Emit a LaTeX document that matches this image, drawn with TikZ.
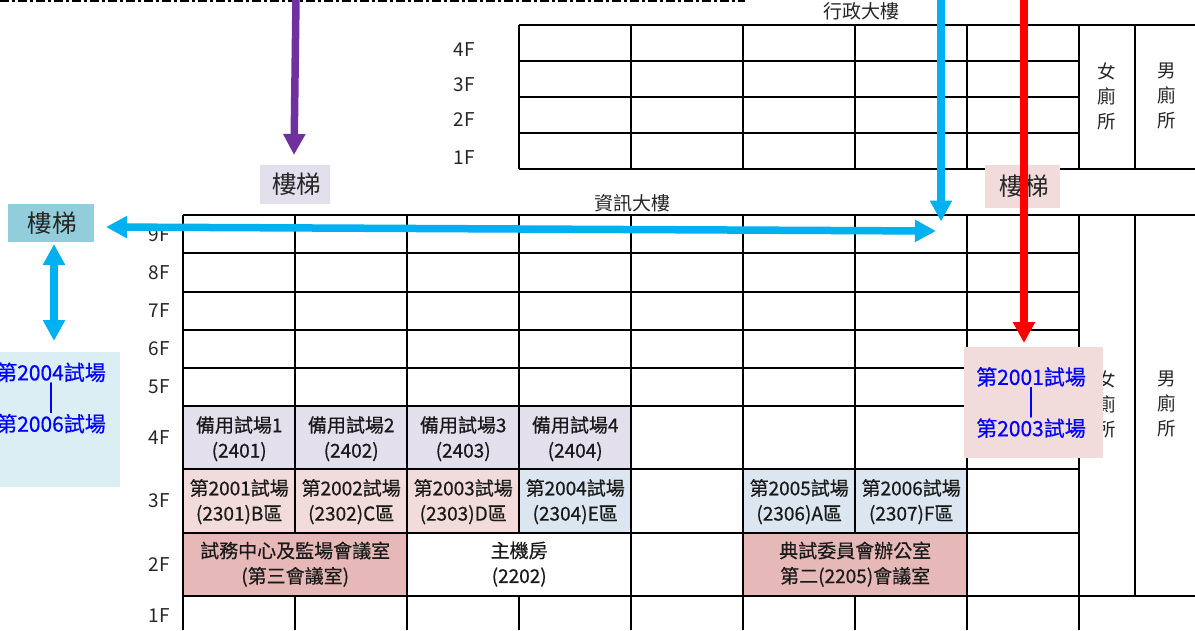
\documentclass[tikz,border=0pt]{standalone}
\usepackage{fontspec}
\setmainfont{Noto Sans CJK TC}
\newfontfamily\heavycjk[FakeBold=0.5]{Noto Sans CJK TC}
\usetikzlibrary{arrows.meta}
\definecolor{lavender}{HTML}{E4DFEC}
\definecolor{rosered}{HTML}{F2DCDB}
\definecolor{paleblue}{HTML}{DCE6F1}
\definecolor{deepred}{HTML}{E6B8B7}
\definecolor{stairblue}{HTML}{92CDDC}
\definecolor{paleteal}{HTML}{DAEEF3}
\definecolor{arrowblue}{HTML}{00B0F0}
\definecolor{arrowpurple}{HTML}{7030A0}
\newcommand{\stairtext}{\raisebox{-1pt}{樓梯}}
\newcommand{\hallbar}{{\fontsize{27}{25}\selectfont|}}

\begin{document}
\begin{tikzpicture}[x=1pt, y=-1pt,
    wall/.style={line width=2pt, black},
    room/.style={inner sep=0pt, align=center, font=\fontsize{19}{25.3}\heavycjk, text=black!90},
    floorlabel/.style={inner sep=0pt, font=\fontsize{19}{20}\selectfont, text=black!85},
    stairbox/.style={inner sep=0pt, font=\fontsize{24.5}{26}\selectfont, text=black!85},
    hallbox/.style={inner sep=0pt, align=center, text=blue, font=\fontsize{21}{25}\heavycjk},
    routearrow/.style={line width=7.5pt, -{Triangle[length=21pt, width=21pt]}},
    bothways/.style={line width=7.5pt, {Triangle[length=21pt, width=21pt]}-{Triangle[length=21pt, width=21pt]}},
  ]
  \useasboundingbox (0,0) rectangle (1195,630);
  \begin{scope}
  \clip (0,0) rectangle (1195,630);

  % rooms with fill
  \foreach \rx/\num/\rno in {183/1/2401, 295/2/2402, 407/3/2403, 519/4/2404}
    \node[room, fill=lavender, minimum width=112pt, minimum height=63pt, anchor=north west] (spare\num) at (\rx,407)
      {備用試場\num\\(\rno)};
  \foreach \rx/\num/\rno/\zone/\col in {183/1/2301/B/rosered, 295/2/2302/C/rosered, 407/3/2303/D/rosered, 519/4/2304/E/paleblue, 743/5/2306/A/paleblue, 855/6/2307/F/paleblue}
    \node[room, fill=\col, minimum width=112pt, minimum height=64pt, anchor=north west] (exam\num) at (\rx,469.5)
      {第200\num 試場\\(\rno)\zone 區};
  \node[room, fill=deepred, minimum width=224pt, minimum height=63pt, anchor=north west] (center) at (183,532.5)
    {試務中心及監場會議室\\(第三會議室)};
  \node[room, minimum width=224pt, minimum height=63pt, anchor=north west] (server) at (407,532.5)
    {主機房\\(2202)};
  \node[room, fill=deepred, minimum width=224pt, minimum height=63pt, anchor=north west] (office) at (743,532.5)
    {典試委員會辦公室\\第二(2205)會議室};

  % admin building
  \foreach \ry in {25,169} \draw[wall] (519,\ry) -- (1195,\ry);
  \foreach \ry in {61,97,133} \draw[wall] (519,\ry) -- (1079,\ry);
  \foreach \rx in {519,631,743,855,967,1079,1135} \draw[wall] (\rx,25) -- (\rx,169);

  % info building
  \foreach \ry in {215,596} \draw[wall] (183,\ry) -- (1195,\ry);
  \foreach \ry in {253,292,330,368,406,469,533} \draw[wall] (183,\ry) -- (1079,\ry);
  \foreach \rx in {183,407,631,743,967,1079} \draw[wall] (\rx,215) -- (\rx,630);
  \foreach \rx in {295,519,855} {
    \draw[wall] (\rx,215) -- (\rx,533);
    \draw[wall] (\rx,596) -- (\rx,630);
  }
  \draw[wall] (1135,215) -- (1135,596);

  % top dashed line
  \draw[line width=3pt, dash pattern=on 9pt off 3pt on 3pt off 3pt] (0,0.5) -- (745,0.5);

  % floors
  \foreach \fl/\fy in {4F/50, 3F/85, 2F/119.5, 1F/157.5}
    \node[floorlabel] (upper\fl) at (464,\fy) {\fl};
  \foreach \fl/\fy in {9F/234.5, 8F/272.5, 7F/310.5, 6F/348.5, 5F/386.5, 4F/437.5, 3F/500.5, 2F/564.5, 1F/615.5}
    \node[floorlabel] (lower\fl) at (159,\fy) {\fl};

  \node[floorlabel] (admin) at (861,11) {行政大樓};
  \node[floorlabel] (info) at (632,203) {資訊大樓};

  % restrooms
  \foreach \rx/\name/\chr in {1107/a/女, 1167/b/男} {
    \node[floorlabel, align=center, font=\fontsize{18.5}{25}\selectfont] (upperwc\name) at (\rx,96) {\chr\\廁\\所};
    \node[floorlabel, align=center, font=\fontsize{18.5}{25}\selectfont] (lowerwc\name) at (\rx,404) {\chr\\廁\\所};
  }

  % stairs
  \node[stairbox, fill=lavender, minimum width=70pt, minimum height=39pt] (stairmid) at (295,184.5) {\hspace{3pt}\stairtext};
  \node[stairbox, fill=stairblue, minimum width=86pt, minimum height=38pt] (stairleft) at (51,223) {\hspace{2pt}\stairtext};
  \node[stairbox, fill=rosered, minimum width=75pt, minimum height=43pt] (stairright) at (1022.5,186.5) {\hspace{3pt}\stairtext};

  % exam halls
  \node[hallbox, fill=paleteal, minimum width=138pt, minimum height=135pt] (hallleft) at (51,419.5) {};
  \node[hallbox] (hallleftt) at (51,398) {第2004試場\\\hallbar\\第2006試場};
  \node[hallbox, fill=rosered, minimum width=139pt, minimum height=111pt] (hallright) at (1033.5,402.5) {};
  \node[hallbox] (hallrightt) at (1031,402.5) {第2001試場\\\hallbar\\第2003試場};

  % routes
  \coordinate (purpletop) at (296,0);
  \coordinate (purpleend) at (294,155);
  \coordinate (bluetop) at (941,0);
  \coordinate (blueend) at (941,221.5);
  \coordinate (redtop) at (1024,0);
  \coordinate (redend) at (1024,343);
  \coordinate (halleast) at (936,231);
  \coordinate (hallwest) at (106,227);
  \coordinate (leftup) at (54,244);
  \coordinate (leftdown) at (54,341);
  \draw[routearrow, arrowpurple] (purpletop) -- (purpleend);
  \draw[routearrow, arrowblue] (bluetop) -- (blueend);
  \draw[routearrow, red] (redtop) -- (redend);
  \draw[bothways, arrowblue] (hallwest) -- (halleast);
  \draw[bothways, arrowblue] (leftup) -- (leftdown);
  \end{scope}
\end{tikzpicture}
\end{document}
